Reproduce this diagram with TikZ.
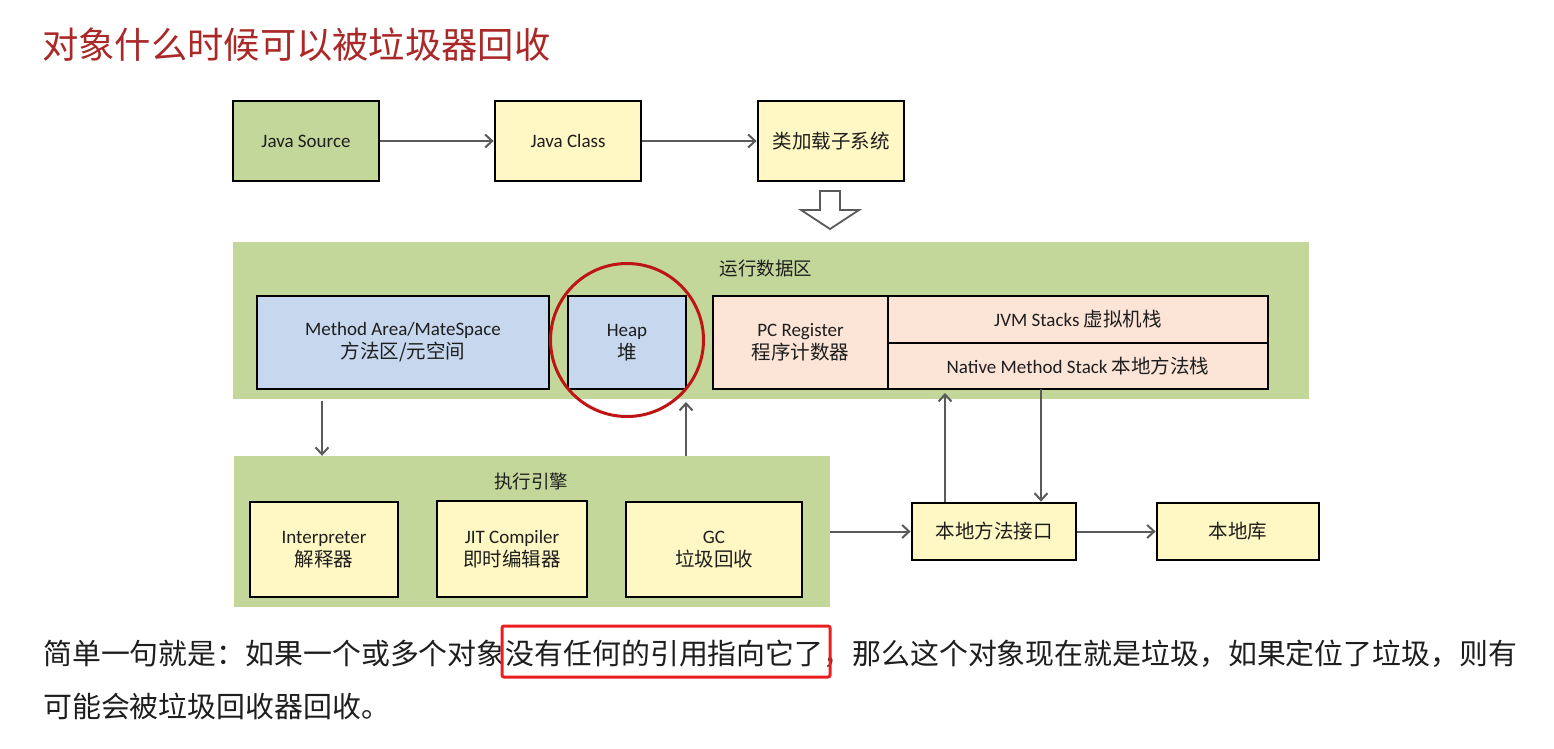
\documentclass[tikz,border=0pt]{standalone}
\usepackage{fontspec}
\setmainfont{Carlito}
\newfontfamily\cjk{Noto Sans CJK SC}
\usetikzlibrary{arrows.meta,calc}
\definecolor{grpgreen}{RGB}{196,215,155}
\definecolor{srcgreen}{RGB}{196,215,155}
\definecolor{lyellow}{RGB}{255,248,196}
\definecolor{lblue}{RGB}{198,215,238}
\definecolor{lpeach}{RGB}{252,228,214}
\definecolor{arrgray}{RGB}{90,90,90}
\definecolor{titlered}{RGB}{170,40,40}
\definecolor{circred}{RGB}{190,20,20}
\definecolor{hlred}{RGB}{235,30,30}
\definecolor{txt}{RGB}{30,30,30}
\newcommand{\zh}[1]{{\cjk\fontsize{19.5}{23}\selectfont #1}}
\tikzset{
  boxnode/.style={draw=black, line width=2.8pt, rectangle, inner sep=0pt, align=center,
    text=txt, font=\fontsize{19}{23}\selectfont},
  grpnode/.style={rectangle, fill=grpgreen, inner sep=0pt},
  grplabel/.style={text=txt, font=\cjk\fontsize{18.5}{22}\selectfont, inner sep=0pt},
  arr/.style={draw=arrgray, line width=2pt, -{Straight Barb[length=7pt,width=13pt,line width=2pt]}},
}
\begin{document}
\begin{tikzpicture}[x=1pt,y=-1pt]
\useasboundingbox[fill=white] (0,0) rectangle (1554,748);
% title
\node[anchor=west, text=titlered, font=\cjk\fontsize{36.3}{40}\selectfont, inner sep=0pt] (title) at (42,45) {对象什么时候可以被垃圾器回收};
% top row
\node[boxnode, fill=srcgreen, minimum width=146pt, minimum height=80pt] (src) at (306,141) {Java Source};
\node[boxnode, fill=lyellow, minimum width=146pt, minimum height=80pt] (cls) at (568,141) {Java Class};
\node[boxnode, fill=lyellow, minimum width=146pt, minimum height=80pt] (cl) at (831,141) {\zh{类加载子系统}};
\draw[arr] (src.east) -- (cls.west);
\draw[arr] (cls.east) -- (cl.west);
% hollow arrow
\draw[draw=arrgray, line width=1.8pt, fill=white, line join=miter]
  (820,191) -- (840,191) -- (840,210) -- (859,210) -- (830,229) -- (801,210) -- (820,210) -- cycle;
% runtime data area
\node[grpnode, minimum width=1076pt, minimum height=157pt] (rda) at (771,320.5) {};
\node[grplabel] (rdal) at (766,268) {运行数据区};
\node[boxnode, fill=lblue, minimum width=292pt, minimum height=93pt] (ma) at (403,342.5)
  {Method Area/MateSpace\\\zh{方法区/元空间}};
\node[boxnode, fill=lblue, minimum width=118pt, minimum height=93pt] (heap) at (627,342.5)
  {Heap\\\zh{堆}};
\node[boxnode, fill=lpeach, minimum width=175pt, minimum height=93pt] (pc) at (800.5,342.5)
  {PC Register\\\zh{程序计数器}};
\node[boxnode, fill=lpeach, minimum width=380pt, minimum height=47pt] (jvms) at (1078,319.5)
  {JVM Stacks \zh{虚拟机栈}};
\node[boxnode, fill=lpeach, minimum width=380pt, minimum height=46pt] (nms) at (1078,366)
  {Native Method Stack \zh{本地方法栈}};
\node[draw=circred, line width=3pt, circle, minimum size=153pt, inner sep=0pt] (ring) at (627,340) {};
% execution engine
\node[grpnode, minimum width=596pt, minimum height=151pt] (ee) at (532,531.5) {};
\node[grplabel] (eel) at (531,481) {执行引擎};
\node[boxnode, fill=lyellow, minimum width=148pt, minimum height=95pt] (interp) at (324,549.5)
  {Interpreter\\\zh{解释器}};
\node[boxnode, fill=lyellow, minimum width=150pt, minimum height=96pt] (jit) at (512,549)
  {JIT Compiler\\\zh{即时编辑器}};
\node[boxnode, fill=lyellow, minimum width=176pt, minimum height=95pt] (gc) at (714,549.5)
  {GC\\\zh{垃圾回收}};
% native
\node[boxnode, fill=lyellow, minimum width=164pt, minimum height=57pt] (jni) at (994,531.5)
  {\zh{本地方法接口}};
\node[boxnode, fill=lyellow, minimum width=162pt, minimum height=57pt] (lib) at (1238,531.5)
  {\zh{本地库}};
% connectors
\coordinate (maout) at (322,401);
\draw[arr] (maout) -- (maout |- ee.north);
\coordinate (heapin) at (686,402);
\draw[arr] (heapin |- ee.north) -- (heapin);
\coordinate (nmsin) at (945,393);
\draw[arr] (nmsin |- jni.north) -- (nmsin);
\coordinate (nmsout) at (1041,389);
\draw[arr] (nmsout) -- (nmsout |- jni.north);
\draw[arr] (ee.east) -- (jni.west);
\draw[arr] (jni.east) -- (lib.west);
% bottom text
\node[anchor=west, text=txt, font=\cjk\fontsize{28.9}{34}\selectfont, inner sep=0pt] (line1) at (43,654)
  {简单一句就是：如果一个或多个对象没有任何的引用指向它了，那么这个对象现在就是垃圾，如果定位了垃圾，则有};
\node[anchor=west, text=txt, font=\cjk\fontsize{28.9}{34}\selectfont, inner sep=0pt] (line2) at (43,706)
  {可能会被垃圾回收器回收。};
\node[draw=hlred, line width=3pt, rounded corners=2pt, minimum width=328pt, minimum height=51pt, inner sep=0pt] (hl) at (666,651.5) {};
\end{tikzpicture}
\end{document}
